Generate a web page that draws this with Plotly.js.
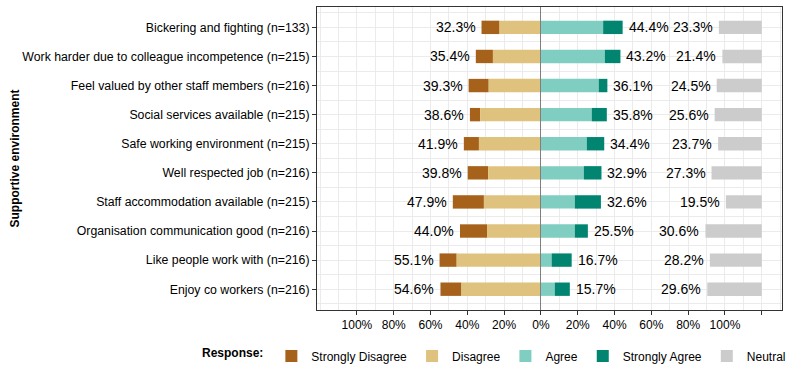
<!DOCTYPE html>
<html>
<head>
<meta charset="utf-8">
<script src="https://cdn.plot.ly/plotly-3.0.1.min.js"></script>
<style>
  html, body { margin: 0; padding: 0; background: #fff; }
  #chart { width: 791px; height: 378px; }
</style>
</head>
<body>
<div id="chart"></div>
<script>
// ---- data (percent of respondents) ----
const categories = [
  'Bickering and fighting (n=133)',
  'Work harder due to colleague incompetence (n=215)',
  'Feel valued by other staff members (n=216)',
  'Social services available (n=215)',
  'Safe working environment (n=215)',
  'Well respected job (n=216)',
  'Staff accommodation available (n=215)',
  'Organisation communication good (n=216)',
  'Like people work with (n=216)',
  'Enjoy co workers (n=216)'
];
const stronglyDisagree = [9.8, 9.3, 10.9, 5.6, 8.2, 11.1, 16.9, 14.7, 9.3, 11.4];
const disagree         = [22.5, 26.1, 28.4, 33.0, 33.7, 28.7, 31.0, 29.3, 45.8, 43.2];
const agree            = [33.8, 34.7, 31.4, 27.6, 24.9, 23.3, 18.4, 18.4, 5.8, 7.5];
const stronglyAgree    = [10.6, 8.5, 4.7, 8.2, 9.5, 9.6, 14.2, 7.1, 10.9, 8.2];
const neutral          = [23.3, 21.4, 24.5, 25.6, 23.7, 27.3, 19.5, 30.6, 28.2, 29.6];

const responseNames = ['Strongly Disagree', 'Disagree', 'Agree', 'Strongly Agree', 'Neutral'];
const xTickValues = [-100, -80, -60, -40, -20, 0, 20, 40, 60, 80, 100, 120];
const xTickLabels = ['100%', '80%', '60%', '40%', '20%', '0%', '20%', '40%', '60%', '80%', '100%', ''];

// ---- styling ----
const colors = ['#A6611A', '#DFC27D', '#80CDC1', '#018571', '#CCCCCC'];
const neutralEnd = 120;   // neutral bars are drawn ending at 120%
const barWidth = 0.46;

const n = categories.length;
const yPos = categories.map((_, i) => n - 1 - i);
const negTotal = stronglyDisagree.map((v, i) => v + disagree[i]);
const posTotal = agree.map((v, i) => v + stronglyAgree[i]);

function barTrace(name, color, x, base) {
  return {
    type: 'bar', orientation: 'h', name: name,
    y: yPos, x: x, base: base, width: barWidth,
    marker: { color: color, line: { width: 0 } },
    hoverinfo: 'skip'
  };
}

const data = [
  barTrace(responseNames[0], colors[0], stronglyDisagree, negTotal.map(v => -v)),
  barTrace(responseNames[1], colors[1], disagree, disagree.map(v => -v)),
  barTrace(responseNames[2], colors[2], agree, agree.map(() => 0)),
  barTrace(responseNames[3], colors[3], stronglyAgree, agree.slice()),
  barTrace(responseNames[4], colors[4], neutral, neutral.map(v => neutralEnd - v))
];

const labelFont = { family: 'Liberation Sans Narrow, Arial Narrow, Liberation Sans, Arial, sans-serif', size: 14, color: '#000' };
const annotations = [];
yPos.forEach((y, i) => {
  annotations.push({ x: -negTotal[i], y: y, xref: 'x', yref: 'y', text: negTotal[i].toFixed(1) + '%',
    showarrow: false, xanchor: 'right', yanchor: 'middle', xshift: -4, font: labelFont });
  annotations.push({ x: posTotal[i], y: y, xref: 'x', yref: 'y', text: posTotal[i].toFixed(1) + '%',
    showarrow: false, xanchor: 'left', yanchor: 'middle', xshift: 4, font: labelFont });
  annotations.push({ x: neutralEnd - neutral[i], y: y, xref: 'x', yref: 'y', text: neutral[i].toFixed(1) + '%',
    showarrow: false, xanchor: 'right', yanchor: 'middle', xshift: -4, font: labelFont });
});

const baseFont = { family: 'Liberation Sans, Arial, sans-serif', size: 12, color: '#000' };
const yTickFont = { family: 'Liberation Sans, Arial, sans-serif', size: 12.3, color: '#000' };

const layout = {
  width: 791, height: 378,
  margin: { l: 317, r: 9, t: 7, b: 68, pad: 0 },
  paper_bgcolor: '#fff', plot_bgcolor: '#fff',
  font: baseFont,
  barmode: 'overlay',
  showlegend: true,
  xaxis: {
    range: [-121.7, 131],
    tickmode: 'array', tickvals: xTickValues, ticktext: xTickLabels,
    ticks: 'outside', ticklen: 4, tickcolor: '#333333', tickwidth: 1,
    tickfont: baseFont,
    showline: true, mirror: true, linecolor: '#333333', linewidth: 1,
    showgrid: true, gridcolor: '#EBEBEB', gridwidth: 1,
    minor: { tickmode: 'linear', tick0: 0, dtick: 10, showgrid: true, gridcolor: '#EBEBEB', gridwidth: 1, ticks: '' },
    zeroline: true, zerolinecolor: '#7F7F7F', zerolinewidth: 1, zerolinelayer: 'above traces',
    fixedrange: true
  },
  yaxis: {
    range: [-0.715, 9.7],
    tickmode: 'array', tickvals: yPos, ticktext: categories,
    ticks: 'outside', ticklen: 4, tickcolor: '#333333', tickwidth: 1,
    tickfont: yTickFont,
    showline: true, mirror: true, linecolor: '#333333', linewidth: 1,
    showgrid: true, gridcolor: '#EBEBEB', gridwidth: 1,
    minor: { tickmode: 'linear', tick0: 0.5, dtick: 1, showgrid: true, gridcolor: '#EBEBEB', gridwidth: 1, ticks: '' },
    zeroline: false,
    title: { text: '<b>Supportive environment</b>', font: baseFont, standoff: 0 },
    fixedrange: true
  },
  legend: {
    orientation: 'h',
    xref: 'paper', yref: 'paper',
    x: -0.25, xanchor: 'left', y: -0.152, yanchor: 'middle',
    font: baseFont,
    title: { text: '<b>Response:</b>', side: 'left', font: baseFont },
    traceorder: 'normal',
    bgcolor: 'rgba(0,0,0,0)'
  },
  annotations: annotations
};

Plotly.newPlot('chart', data, layout, { displayModeBar: false, staticPlot: true });
</script>
</body>
</html>
